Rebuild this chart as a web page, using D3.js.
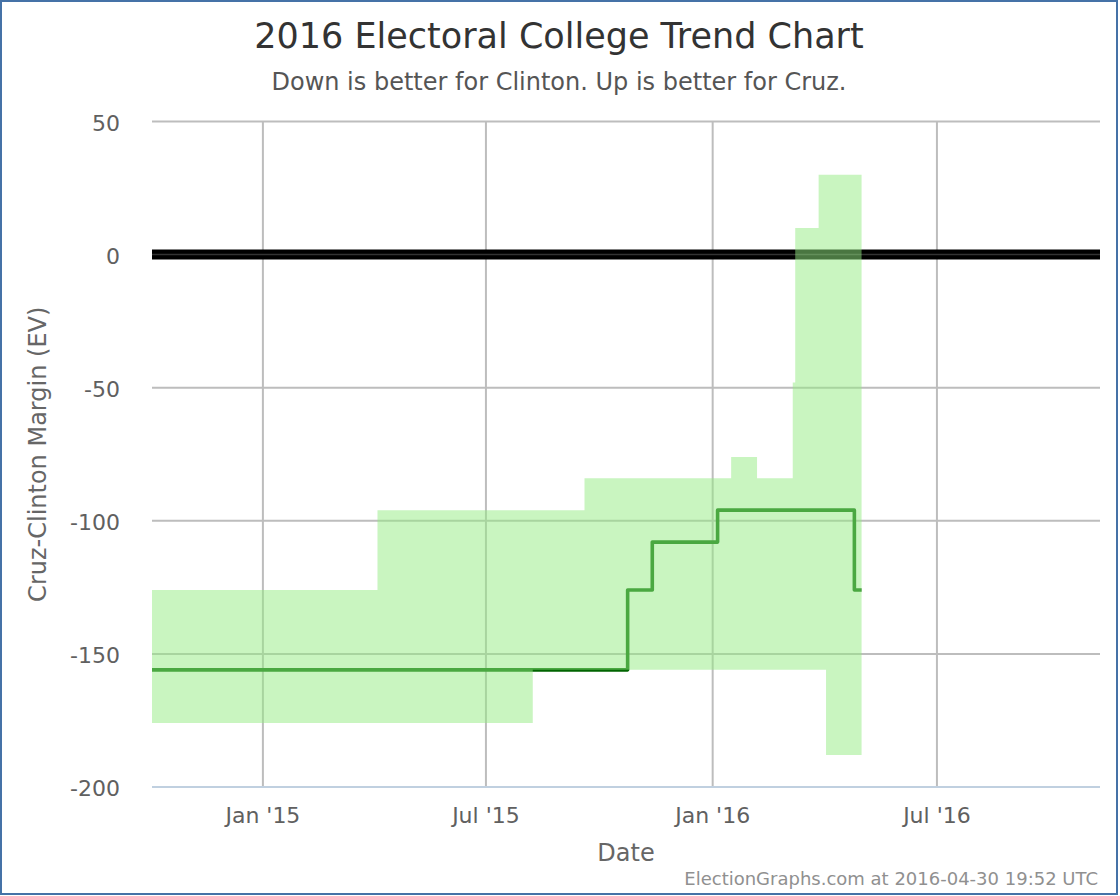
<!DOCTYPE html>
<html>
<head>
<meta charset="utf-8">
<script src="https://cdn.jsdelivr.net/npm/d3@7"></script>
<style>
  html, body { margin: 0; padding: 0; background: #fff; }
  svg { display: block; font-family: "DejaVu Sans", sans-serif; }
</style>
</head>
<body>
<svg id="chart" width="1120" height="896"></svg>
<script>
// ---- Data ----
const changeDates = ["2014-10-03", "2015-04-04", "2015-08-08", "2015-09-19", "2015-10-24",
  "2015-11-13", "2016-01-05", "2016-01-16", "2016-02-06", "2016-03-06", "2016-03-08",
  "2016-03-27", "2016-04-02", "2016-04-25", "2016-04-30T20:00"];
const margin  = [-156, -156, -156, -156, -126, -108, -96, -96, -96, -96, -96, -96, -96, -126, -126];
const bandLow = [-176, -176, -156, -156, -156, -156, -156, -156, -156, -156, -156, -156, -188, -188, -188];
const bandHigh = [-126, -96, -96, -84, -84, -84, -84, -76, -84, -48, 10, 30, 30, 30, 30];

const xDomain = ["2014-10-03T00:00Z", "2016-11-10T08:00Z"];
const xTickDates = ["2015-01-01", "2015-07-01", "2016-01-01", "2016-07-01"];
const xTickLabels = ["Jan '15", "Jul '15", "Jan '16", "Jul '16"];
const yTicks = [50, 0, -50, -100, -150, -200];
const yDomain = [-200, 50];

const titleText = "2016 Electoral College Trend Chart";
const subtitleText = "Down is better for Clinton. Up is better for Cruz.";
const yTitle = "Cruz-Clinton Margin (EV)";
const xTitle = "Date";
const creditText = "ElectionGraphs.com at 2016-04-30 19:52 UTC";

// ---- Setup ----
const svg = d3.select("#chart");
const plot = { left: 152, right: 1100, top: 121.5, bottom: 787 };
const parse = s => new Date(s.length <= 10 ? s + "T00:00Z" : s + "Z");
const x = d3.scaleUtc().domain(xDomain.map(s => new Date(s))).range([plot.left, plot.right]);
const y = d3.scaleLinear().domain(yDomain).range([plot.bottom, plot.top]);

const data = changeDates.map((d, i) => ({ date: parse(d), m: margin[i], lo: bandLow[i], hi: bandHigh[i] }));

// border
svg.append("rect").attr("x", 1).attr("y", 1).attr("width", 1116).attr("height", 893)
  .attr("fill", "#fff").attr("stroke", "#4572A7").attr("stroke-width", 2);

// title & subtitle
svg.append("text").attr("x", 559).attr("y", 48).attr("text-anchor", "middle")
  .attr("font-size", 35).attr("fill", "#333333").text(titleText);
svg.append("text").attr("x", 559).attr("y", 90).attr("text-anchor", "middle")
  .attr("font-size", 24).attr("fill", "#555555").text(subtitleText);

// gridlines
const grid = svg.append("g");
grid.selectAll("line.h").data(yTicks).join("line")
  .attr("x1", plot.left).attr("x2", plot.right)
  .attr("y1", d => y(d)).attr("y2", d => y(d))
  .attr("stroke", "#bdbdbd").attr("stroke-width", 2);
grid.selectAll("line.v").data(xTickDates).join("line")
  .attr("x1", d => x(parse(d))).attr("x2", d => x(parse(d)))
  .attr("y1", plot.top).attr("y2", plot.bottom)
  .attr("stroke", "#bdbdbd").attr("stroke-width", 2);

// x axis line
svg.append("line").attr("x1", plot.left).attr("x2", plot.right)
  .attr("y1", plot.bottom).attr("y2", plot.bottom)
  .attr("stroke", "#C0D0E0").attr("stroke-width", 2);

// zero plot line
svg.append("line").attr("x1", plot.left).attr("x2", plot.right)
  .attr("y1", y(0)).attr("y2", y(0)).attr("stroke", "#000").attr("stroke-width", 10);
svg.append("line").attr("x1", plot.left).attr("x2", plot.right)
  .attr("y1", y(0)).attr("y2", y(0)).attr("stroke", "#333").attr("stroke-width", 1.5);

// margin line (dark green, later softened by band on top)
const line = d3.line().x(d => x(d.date)).y(d => y(d.m)).curve(d3.curveStepAfter);
svg.append("path").datum(data).attr("d", line)
  .attr("fill", "none").attr("stroke", "#006400").attr("stroke-width", 3.6)
  .attr("stroke-linejoin", "round");

// range band
const area = d3.area().x(d => x(d.date)).y0(d => y(d.lo)).y1(d => y(d.hi)).curve(d3.curveStepAfter);
svg.append("path").datum(data).attr("d", area)
  .attr("fill", "rgb(147,235,130)").attr("fill-opacity", 0.5);

// y tick labels
svg.append("g").selectAll("text").data(yTicks).join("text")
  .attr("x", 120).attr("y", d => y(d) + 9).attr("text-anchor", "end")
  .attr("font-size", 22).attr("fill", "#606060").text(d => d);

// x tick labels
svg.append("g").selectAll("text").data(xTickDates).join("text")
  .attr("x", d => x(parse(d))).attr("y", 823).attr("text-anchor", "middle")
  .attr("font-size", 22).attr("fill", "#606060").text((d, i) => xTickLabels[i]);

// axis titles
svg.append("text").attr("transform", `translate(46,${(plot.top + plot.bottom) / 2}) rotate(-90)`)
  .attr("text-anchor", "middle").attr("font-size", 24).attr("fill", "#666666").text(yTitle);
svg.append("text").attr("x", (plot.left + plot.right) / 2).attr("y", 861)
  .attr("text-anchor", "middle").attr("font-size", 24).attr("fill", "#666666").text(xTitle);

// credit
svg.append("text").attr("x", 1098).attr("y", 885).attr("text-anchor", "end")
  .attr("font-size", 18).attr("fill", "#909090").text(creditText);
</script>
</body>
</html>
